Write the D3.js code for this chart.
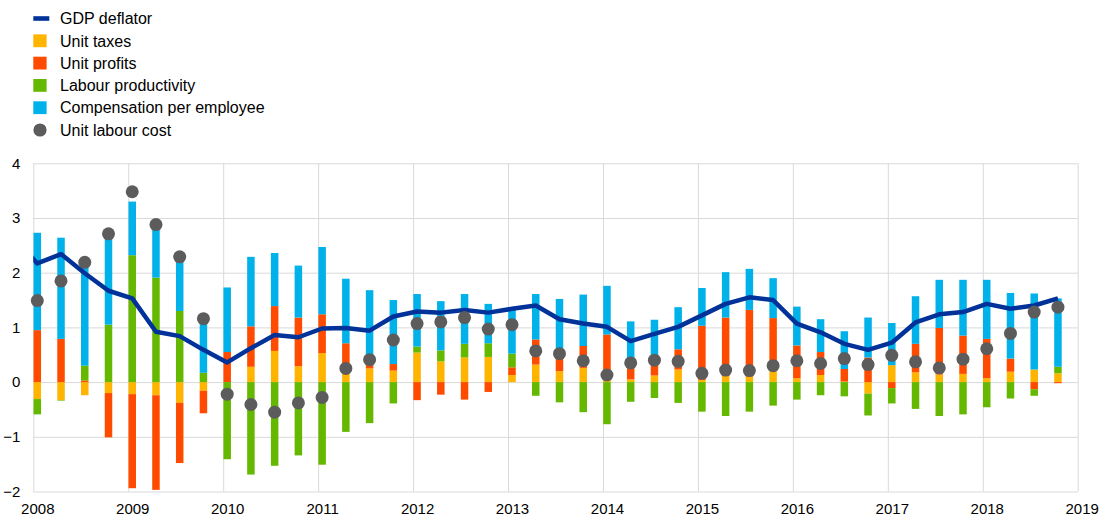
<!DOCTYPE html>
<html lang="en">
<head>
  <meta charset="UTF-8">
  <script src="https://d3js.org/d3.v7.min.js"></script>
  <style>
    body { margin: 0; background: #fff; }
    svg text { font-family: Arial, "Liberation Sans", sans-serif; fill: #000; }
    .grid line { stroke: #d9d9d9; stroke-width: 1; }
    .axis text { font-size: 15px; }
    .legend text { font-size: 16px; }
  </style>
  <title>GDP deflator decomposition</title>
</head>
<body>
  <svg id="chart" width="1103" height="517"></svg>
  <script>
    // quarters shown on the chart
    var quarters = [
      "2008Q1","2008Q2","2008Q3","2008Q4","2009Q1","2009Q2","2009Q3","2009Q4",
      "2010Q1","2010Q2","2010Q3","2010Q4","2011Q1","2011Q2","2011Q3","2011Q4",
      "2012Q1","2012Q2","2012Q3","2012Q4","2013Q1","2013Q2","2013Q3","2013Q4",
      "2014Q1","2014Q2","2014Q3","2014Q4","2015Q1","2015Q2","2015Q3","2015Q4",
      "2016Q1","2016Q2","2016Q3","2016Q4","2017Q1","2017Q2","2017Q3","2017Q4",
      "2018Q1","2018Q2","2018Q3","2018Q4"
    ];

    var unitTaxes = [-0.31,-0.33,-0.24,-0.20,-0.22,-0.24,-0.38,-0.16,
      0.00,0.28,0.57,0.29,0.53,0.15,0.25,0.21,
      0.54,0.38,0.45,0.46,0.13,0.32,0.20,0.26,
      0.04,0.05,0.12,0.23,0.04,0.11,0.10,0.20,
      0.07,0.13,0.01,-0.21,0.31,0.18,0.14,0.15,
      0.07,0.19,0.23,0.16];

    var unitProfits = [0.95,0.79,0.03,-0.81,-1.72,-1.73,-1.10,-0.41,
      0.55,0.74,0.82,0.89,0.71,0.56,0.06,0.12,
      -0.33,-0.23,-0.32,-0.18,0.14,0.46,0.37,0.40,
      0.83,0.35,0.33,0.37,0.99,1.07,1.22,0.97,
      0.60,0.42,0.23,0.45,-0.11,0.52,0.85,0.70,
      0.72,0.24,-0.13,-0.02];

    var labourProductivity = [-0.28,-0.01,0.27,1.05,2.32,1.91,1.30,0.17,
      -1.41,-1.69,-1.53,-1.34,-1.51,-0.91,-0.75,-0.39,
      0.11,0.20,0.25,0.25,0.25,-0.25,-0.37,-0.55,
      -0.77,-0.36,-0.29,-0.38,-0.54,-0.62,-0.54,-0.43,
      -0.32,-0.24,-0.26,-0.40,-0.28,-0.49,-0.62,-0.59,
      -0.46,-0.30,-0.12,0.12];

    var compensation = [1.78,1.85,1.92,1.66,0.98,0.92,0.92,0.95,
      1.18,1.27,0.97,0.95,1.23,1.18,1.37,1.17,
      0.96,0.90,0.91,0.72,0.80,0.83,0.95,0.94,
      0.89,0.71,0.69,0.77,0.69,0.83,0.75,0.73,
      0.71,0.60,0.69,0.73,0.77,0.87,0.88,1.02,
      1.08,1.20,1.39,1.25];

    var unitLabourCost = [1.49,1.85,2.19,2.71,3.48,2.88,2.29,1.16,
      -0.22,-0.41,-0.55,-0.38,-0.28,0.25,0.41,0.77,
      1.07,1.10,1.18,0.97,1.05,0.57,0.52,0.39,
      0.13,0.35,0.40,0.38,0.16,0.22,0.21,0.30,
      0.39,0.34,0.43,0.32,0.49,0.37,0.26,0.42,
      0.61,0.89,1.28,1.37];

    var gdpDeflator = [2.17,2.34,1.99,1.67,1.53,0.92,0.84,0.59,
      0.36,0.62,0.86,0.82,0.98,0.99,0.94,1.20,
      1.29,1.27,1.32,1.27,1.34,1.40,1.15,1.07,
      1.01,0.75,0.88,1.01,1.22,1.43,1.55,1.50,
      1.07,0.91,0.70,0.59,0.72,1.09,1.24,1.28,
      1.43,1.34,1.40,1.53];
    // the line enters the plot from the previous quarter (clipped)
    var gdpDeflator2007Q4 = 2.65;

    var yTicks = [-2, -1, 0, 1, 2, 3, 4];
    var yearTicks = [2008, 2009, 2010, 2011, 2012, 2013, 2014, 2015, 2016, 2017, 2018, 2019];

    var seriesKeys = ["taxes", "profits", "productivity", "compensation"];
    var seriesColors = { taxes: "#ffb400", profits: "#ff4b00", productivity: "#65b800", compensation: "#00b1ea" };

    var legendLabels = ["GDP deflator", "Unit taxes", "Unit profits", "Labour productivity", "Compensation per employee", "Unit labour cost"];
    var legendKinds = ["line", "taxes", "profits", "productivity", "compensation", "dot"];

    var lineColor = "#003299", dotColor = "#5c5c5c";

    var svg = d3.select("#chart");
    var margin = { left: 33.3, right: 1077.7, top: 163.3, bottom: 491.5 };

    // quarter label -> decimal year (bars sit a little after the quarter start)
    function qPos(q) {
      return +q.slice(0, 4) + (+q.slice(5) - 1) / 4 + 0.042;
    }

    var x = d3.scaleLinear().domain([2008, 2019]).range([margin.left, margin.right]);
    var y = d3.scaleLinear().domain([-2, 4]).range([margin.bottom, margin.top]);

    var table = quarters.map(function (q, i) {
      return {
        q: q,
        taxes: unitTaxes[i],
        profits: unitProfits[i],
        productivity: labourProductivity[i],
        compensation: compensation[i],
        ulc: unitLabourCost[i],
        deflator: gdpDeflator[i]
      };
    });

    // grid + axes
    svg.append("g")
      .attr("class", "grid axis")
      .attr("transform", "translate(" + margin.left + ",0)")
      .call(d3.axisLeft(y).tickValues(yTicks).tickSize(-(margin.right - margin.left)).tickPadding(13).tickFormat(d3.format("d")))
      .call(function (g) { g.select(".domain").remove(); });

    svg.append("g")
      .attr("class", "grid axis")
      .attr("transform", "translate(0," + margin.bottom + ")")
      .call(d3.axisBottom(x).tickValues(yearTicks).tickSize(-(margin.bottom - margin.top)).tickPadding(12).tickFormat(d3.format("d")))
      .call(function (g) { g.select(".domain").remove(); })
      .call(function (g) { g.selectAll("text").attr("dx", 4); });

    svg.selectAll(".axis").attr("font-family", null).attr("font-size", null);

    // stacked bars
    var stack = d3.stack().keys(seriesKeys).offset(d3.stackOffsetDiverging);
    var layers = stack(table);
    var barW = 7.5;

    svg.append("g").selectAll("g")
      .data(layers)
      .enter().append("g")
      .attr("fill", function (d) { return seriesColors[d.key]; })
      .selectAll("rect")
      .data(function (d) { return d; })
      .enter().append("rect")
      .attr("x", function (d) { return x(qPos(d.data.q)) - barW / 2; })
      .attr("y", function (d) { return y(Math.max(d[0], d[1])); })
      .attr("width", barW)
      .attr("height", function (d) { return Math.abs(y(d[0]) - y(d[1])); });

    // GDP deflator line, clipped to the plot
    svg.append("clipPath").attr("id", "plotClip")
      .append("rect")
      .attr("x", margin.left).attr("y", 0)
      .attr("width", margin.right - margin.left).attr("height", 517);

    var linePts = [{ p: qPos("2008Q1") - 0.25, v: gdpDeflator2007Q4 }]
      .concat(table.map(function (d) { return { p: qPos(d.q), v: d.deflator }; }));

    svg.append("path")
      .datum(linePts)
      .attr("clip-path", "url(#plotClip)")
      .attr("fill", "none")
      .attr("stroke", lineColor)
      .attr("stroke-width", 4.5)
      .attr("stroke-linejoin", "round")
      .attr("d", d3.line().x(function (d) { return x(d.p); }).y(function (d) { return y(d.v); }));

    // unit labour cost dots
    svg.append("g").selectAll("circle")
      .data(table)
      .enter().append("circle")
      .attr("cx", function (d) { return x(qPos(d.q)); })
      .attr("cy", function (d) { return y(d.ulc); })
      .attr("r", 6.5)
      .attr("fill", dotColor);

    // legend
    var legend = svg.append("g").attr("class", "legend");
    var lg = legend.selectAll("g")
      .data(legendLabels)
      .enter().append("g")
      .attr("transform", function (d, i) { return "translate(0," + (18.5 + i * 22.3) + ")"; });

    lg.each(function (d, i) {
      var g = d3.select(this), kind = legendKinds[i];
      if (kind === "line") {
        g.append("rect").attr("x", 33.3).attr("y", -2.3).attr("width", 16).attr("height", 4.6).attr("fill", lineColor);
      } else if (kind === "dot") {
        g.append("circle").attr("cx", 40).attr("cy", 0).attr("r", 6.6).attr("fill", dotColor);
      } else {
        g.append("rect").attr("x", 33.3).attr("y", -6.4).attr("width", 13.3).attr("height", 12.8).attr("fill", seriesColors[kind]);
      }
      g.append("text").attr("x", 60).attr("y", 5.7).text(d);
    });
  </script>
</body>
</html>
